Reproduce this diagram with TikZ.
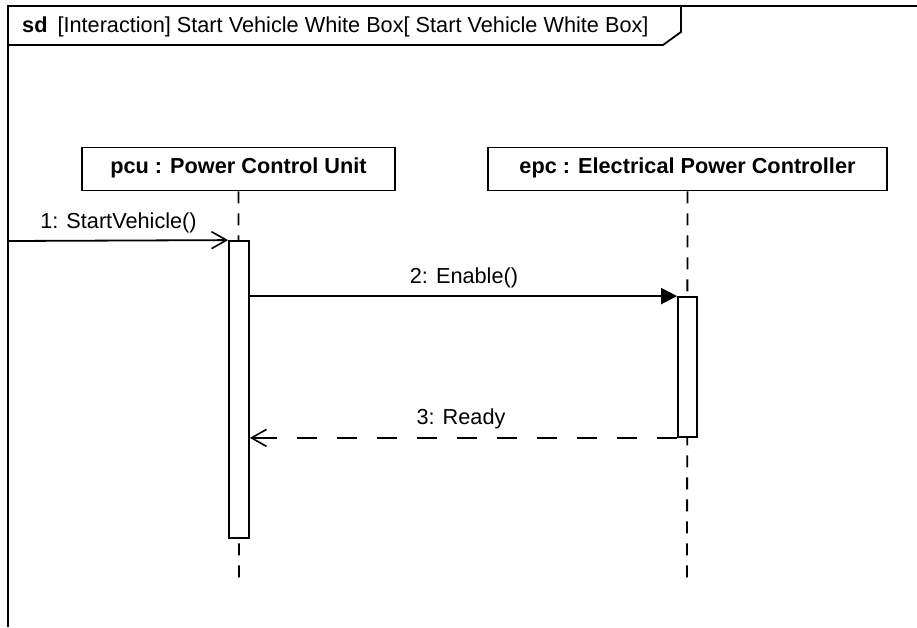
\documentclass[tikz,border=0pt]{standalone}
\usepackage{fontspec}
\setmainfont{Liberation Sans}
\usetikzlibrary{arrows.meta}
\begin{document}
\begin{tikzpicture}[x=1pt,y=-1pt,
  every node/.style={font=\fontsize{21.7pt}{26pt}\selectfont, inner sep=0pt},
  frameline/.style={line width=1.8pt},
  lifebox/.style={draw, line width=1.8pt, rectangle, minimum height=43pt, text height=16pt, text depth=8pt, font=\fontsize{21.7pt}{26pt}\selectfont\bfseries},
  lifeline/.style={line width=1.8pt, dash pattern=on 12pt off 10pt},
  actbox/.style={draw, fill=white, line width=1.8pt, rectangle},
  msg/.style={line width=1.8pt},
  openhead/.style={-{Straight Barb[length=15pt,width=17pt,line width=1.6pt]}},
  filledhead/.style={-{Triangle[length=16pt,width=16pt]}},
  reply/.style={line width=1.8pt, dash pattern=on 20pt off 20pt}
]
\useasboundingbox (0,0) rectangle (917,627);
% frame
\draw[frameline] (8,627) -- (8,6) -- (917,6);
\draw[frameline] (8,45) -- (663,45) -- (681,32) -- (681,6);
\node[anchor=base west] (title) at (22,32) {\textbf{sd}\hspace{10pt}[Interaction] Start Vehicle White Box[ Start Vehicle White Box]};
% lifeline heads
\node[lifebox, minimum width=313pt] (pcu) at (238.5,169) {pcu : Power Control Unit};
\node[lifebox, minimum width=399pt] (epc) at (687.5,169) {epc : Electrical Power Controller};
\coordinate (pcuend) at (239,583);
\coordinate (epcend) at (687,583);
\draw[lifeline] (pcu.south) -- (pcuend);
\draw[lifeline] (epc.south) -- (epcend);
% activations
\node[actbox, minimum width=20pt, minimum height=297pt] (actA) at (239,389.5) {};
\node[actbox, minimum width=19pt, minimum height=140pt] (actB) at (687.5,367) {};
% messages
\coordinate (m1s) at (8,241);
\draw[msg, openhead] (m1s) -- (actA.north west);
\node[anchor=base] (l1) at (118.5,228) {1: StartVehicle()};
\draw[msg, filledhead] (actA.east |- actB.north west) -- (actB.north west);
\node[anchor=base] (l2) at (464,283) {2: Enable()};
\draw[reply] (actB.south west) -- (actA.east |- actB.south west);
\draw[msg, openhead] ([xshift=20pt]actA.east |- actB.south west) -- (actA.east |- actB.south west);
\node[anchor=base] (l3) at (461,424) {3: Ready};
\end{tikzpicture}
\end{document}
